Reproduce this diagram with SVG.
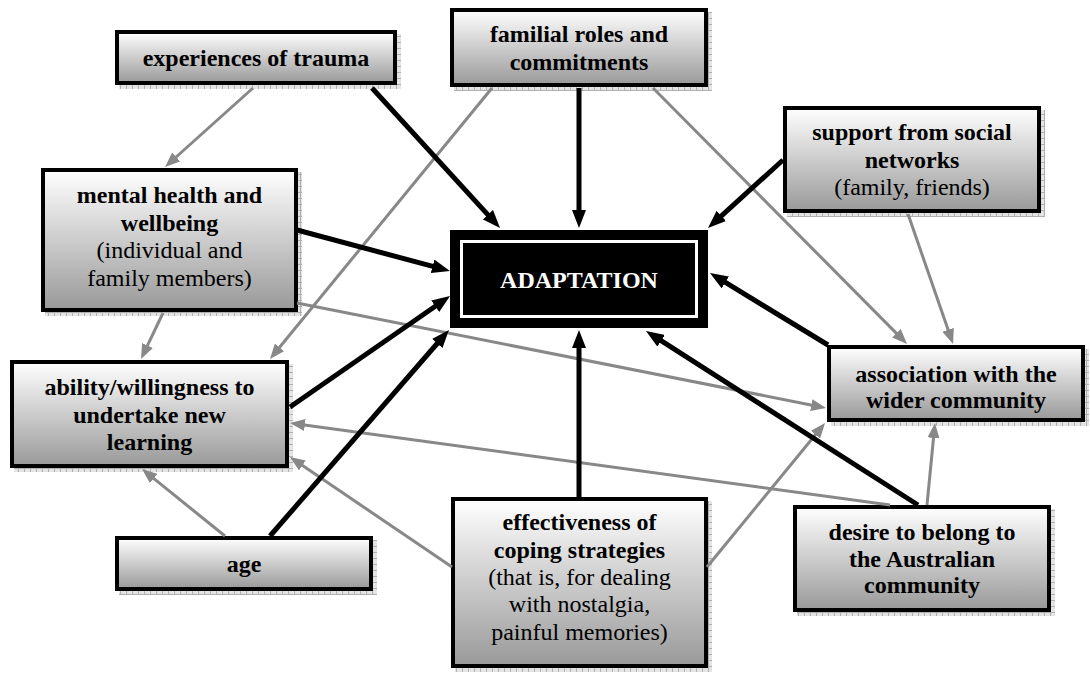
<svg xmlns="http://www.w3.org/2000/svg" width="1090" height="673" viewBox="0 0 1090 673" font-family="'Liberation Serif', 'Times New Roman', 'DejaVu Serif', serif">
<defs>
<linearGradient id="g" x1="0" y1="0" x2="0" y2="1">
<stop offset="0" stop-color="#ffffff"/>
<stop offset="1" stop-color="#999999"/>
</linearGradient>
<pattern id="sh" width="6" height="6" patternUnits="userSpaceOnUse">
<rect width="6" height="6" fill="#e4e4e4"/>
<path d="M0,0.5 H6 M0.5,0 V6" stroke="#b0b0b0" stroke-width="1"/>
</pattern>
<marker id="ab" markerUnits="userSpaceOnUse" markerWidth="18" markerHeight="14" refX="8" refY="7" orient="auto">
<path d="M0,0 L18,7 L0,14 z" fill="#000"/>
</marker>
<marker id="ag" markerUnits="userSpaceOnUse" markerWidth="15" markerHeight="12" refX="6" refY="6" orient="auto">
<path d="M0,0 L15,6 L0,12 z" fill="#888"/>
</marker>
</defs>
<style>
.box{fill:url(#g);stroke:#000;stroke-width:4}
.shd{fill:url(#sh)}
text{font-family:'Liberation Serif','Times New Roman','DejaVu Serif',serif;font-size:24px;text-anchor:middle;fill:#000}
.b{font-weight:bold}
.w{fill:#fff}
.blk{stroke:#000;stroke-width:5;fill:none;marker-end:url(#ab)}
.gry{stroke:#888;stroke-width:3;fill:none;marker-end:url(#ag)}
</style>
<rect width="1090" height="673" fill="#fff"/>

<g id="experiences">
<rect class="shd" x="119" y="34" width="282" height="55"/>
<rect class="box" x="117" y="32" width="278" height="51"/>
<text class="b" x="256" y="66">experiences of trauma</text>
</g>

<g id="familial">
<rect class="shd" x="454" y="12" width="258" height="79"/>
<rect class="box" x="452" y="10" width="254" height="75"/>
<text class="b" x="579" y="42">familial roles and</text>
<text class="b" x="579" y="70">commitments</text>
</g>

<g id="mental">
<rect class="shd" x="45" y="172" width="257" height="144"/>
<rect class="box" x="43" y="170" width="253" height="140"/>
<text class="b" x="169.5" y="203">mental health and</text>
<text class="b" x="169.5" y="231">wellbeing</text>
<text x="169.5" y="258">(individual and</text>
<text x="169.5" y="286">family members)</text>
</g>

<g id="support">
<rect class="shd" x="787" y="110" width="258" height="107"/>
<rect class="box" x="785" y="108" width="254" height="103"/>
<text class="b" x="912" y="140">support from social</text>
<text class="b" x="912" y="168">networks</text>
<text x="912" y="195">(family, friends)</text>
</g>

<g id="adaptation">
<rect x="450" y="230" width="258" height="98" fill="#000"/>
<rect x="461.5" y="241.5" width="235" height="75" fill="none" stroke="#fff" stroke-width="3"/>
<text class="b w" x="579" y="288">ADAPTATION</text>
</g>

<g id="ability">
<rect class="shd" x="14" y="364" width="279" height="108"/>
<rect class="box" x="12" y="362" width="275" height="104"/>
<text class="b" x="149.5" y="395">ability/willingness to</text>
<text class="b" x="149.5" y="423">undertake new</text>
<text class="b" x="149.5" y="450">learning</text>
</g>

<g id="association">
<rect class="shd" x="831" y="349" width="258" height="77"/>
<rect class="box" x="829" y="347" width="254" height="73"/>
<text class="b" x="956" y="382">association with the</text>
<text class="b" x="956" y="408">wider community</text>
</g>

<g id="age">
<rect class="shd" x="119" y="540" width="258" height="55"/>
<rect class="box" x="117" y="538" width="254" height="51"/>
<text class="b" x="244" y="572">age</text>
</g>

<g id="effectiveness">
<rect class="shd" x="455" y="501" width="257" height="171"/>
<rect class="box" x="453" y="499" width="253" height="167"/>
<text class="b" x="579.5" y="530">effectiveness of</text>
<text class="b" x="579.5" y="558">coping strategies</text>
<text x="579.5" y="585">(that is, for dealing</text>
<text x="579.5" y="612">with nostalgia,</text>
<text x="579.5" y="640">painful memories)</text>
</g>

<g id="desire">
<rect class="shd" x="797" y="509" width="258" height="107"/>
<rect class="box" x="795" y="507" width="254" height="103"/>
<text class="b" x="922" y="540">desire to belong to</text>
<text class="b" x="922" y="567">the Australian</text>
<text class="b" x="922" y="593">community</text>
</g>

<g id="connectors">
<line class="gry" x1="253" y1="88" x2="171.7" y2="161"/>
<line class="gry" x1="492" y1="88" x2="275.7" y2="352"/>
<line class="gry" x1="653" y1="88" x2="900.7" y2="337.6"/>
<line class="gry" x1="908" y1="214" x2="950.1" y2="335.5"/>
<line class="gry" x1="163" y1="313" x2="144.9" y2="350.9"/>
<line class="gry" x1="297" y1="303" x2="817.2" y2="406.2"/>
<line class="gry" x1="890" y1="505" x2="298.9" y2="424.2"/>
<line class="gry" x1="452" y1="567" x2="297.4" y2="462.1"/>
<line class="gry" x1="225" y1="536" x2="149" y2="474.7"/>
<line class="gry" x1="707" y1="567" x2="819.3" y2="430"/>
<line class="gry" x1="927" y1="505" x2="934.1" y2="432"/>
<line class="blk" x1="372" y1="88" x2="493.25" y2="220.6"/>
<line class="blk" x1="579" y1="88" x2="579" y2="218"/>
<line class="blk" x1="783" y1="160" x2="715.4" y2="221.3"/>
<line class="blk" x1="297" y1="230" x2="440.3" y2="268.4"/>
<line class="blk" x1="290" y1="407" x2="441.8" y2="301.7"/>
<line class="blk" x1="270" y1="536" x2="442.4" y2="337.5"/>
<line class="blk" x1="579" y1="497" x2="579" y2="340"/>
<line class="blk" x1="918" y1="505" x2="654.4" y2="336.4"/>
<line class="blk" x1="828" y1="345" x2="718.5" y2="278.2"/>
</g>
</svg>
